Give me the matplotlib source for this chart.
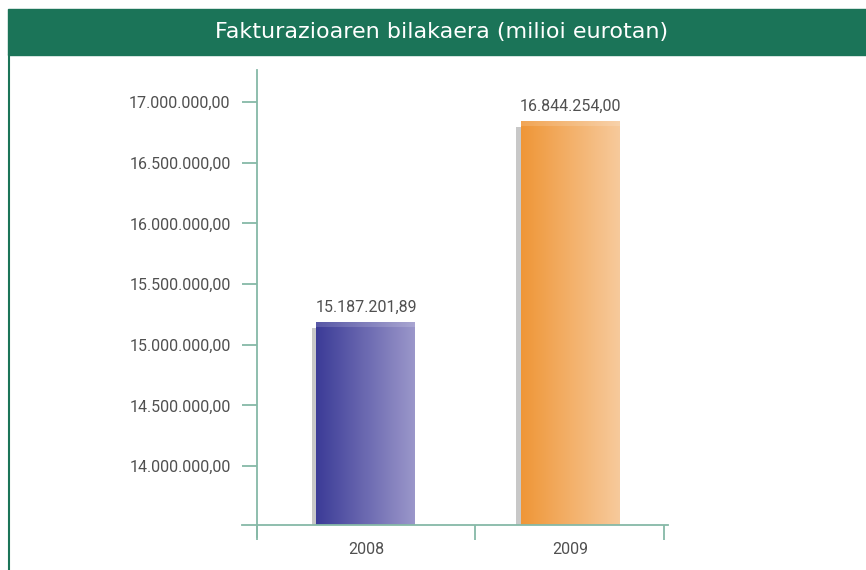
import numpy as np
import matplotlib.pyplot as plt
from matplotlib.colors import LinearSegmentedColormap
from matplotlib.patches import Rectangle

# data
years = ["2008", "2009"]
values = [15187201.89, 16844254.00]
yticks = [14000000, 14500000, 15000000, 15500000, 16000000, 16500000, 17000000]
grad_colors = [("#3b3b97", "#9b97ca"), ("#ef9637", "#f7ca9c")]

green = "#1b7458"
axis_col = "#86b9a7"
text_col = "#505050"
y_lo, y_hi = 13514000, 17264000


def fmt(v):
    s = "{:,.2f}".format(v)
    return s.replace(",", "X").replace(".", ",").replace("X", ".")


plt.rcParams["font.family"] = ["Roboto", "DejaVu Sans"]

fig = plt.figure(figsize=(8.66, 5.70), dpi=100)

# title banner and left border
fig.patches.append(Rectangle((8 / 866, 1 - 55 / 570), 1, 46 / 570, transform=fig.transFigure,
                             color=green, zorder=0))
fig.add_artist(plt.Line2D([8.5 / 866, 8.5 / 866], [0, 1 - 55 / 570], transform=fig.transFigure,
                          color=green, lw=1.5))
fig.text(0.51, 1 - 32 / 570, "Fakturazioaren bilakaera (milioi eurotan)", color="white",
         fontsize=16, ha="center", va="center", family=["DejaVu Sans"])

ax = fig.add_axes([257 / 866, 1 - 525 / 570, 411 / 866, 455 / 570])

x = np.arange(len(years))
width = 0.485
for i, (v, (c0, c1)) in enumerate(zip(values, grad_colors)):
    # grey shadow behind the bar
    ax.bar(x[i] - 0.02, v - 50000, width=width, color="#c8c8c8", zorder=1)
    bar = ax.bar(x[i], v, width=width, color="none", zorder=2)[0]
    cmap = LinearSegmentedColormap.from_list("g%d" % i, [c0, c1])
    grad = np.linspace(0, 1, 256).reshape(1, -1)
    im = ax.imshow(grad, cmap=cmap, aspect="auto", zorder=2,
                   extent=[x[i] - width / 2, x[i] + width / 2, y_lo, v])
    im.set_clip_path(bar)
    # slightly lighter strip on the top edge
    ax.bar(x[i], 40000, bottom=v - 40000, width=width, color="white", alpha=0.15, zorder=3)
    ax.text(x[i], v + 60000, fmt(v), ha="center", va="bottom", fontsize=11.5,
            color=text_col)

ax.set_xlim(-0.534, 1.48)
ax.set_ylim(y_lo, y_hi)

for s in ax.spines.values():
    s.set_visible(False)
ax.plot([0, 0], [-12 / 455, 1], transform=ax.transAxes, color=axis_col, lw=1.3, clip_on=False)
ax.plot([-15 / 411, 1], [0, 0], transform=ax.transAxes, color=axis_col, lw=1.3, clip_on=False)

ax.set_yticks(yticks)
ax.set_yticklabels([fmt(t) for t in yticks], fontsize=11.5, color=text_col)
ax.tick_params(axis="y", length=11, width=1.3, color=axis_col, pad=8)

ax.set_xticks(x)
ax.set_xticklabels(years, fontsize=11.5, color=text_col)
ax.set_xticks([-0.534, 0.534, 1.46], minor=True)
ax.tick_params(axis="x", which="major", length=0, pad=12)
ax.tick_params(axis="x", which="minor", length=11, width=1.3, color=axis_col)

fig.savefig("out.png", dpi=100)
